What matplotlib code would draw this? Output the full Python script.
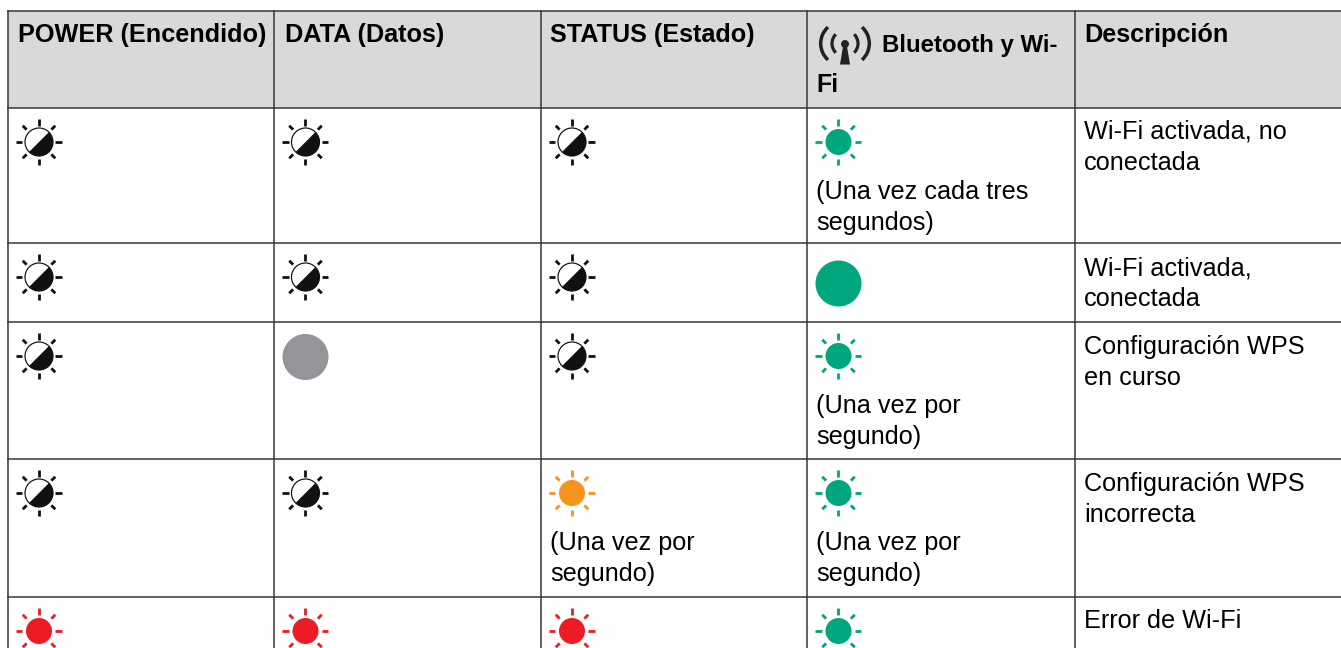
import matplotlib
matplotlib.use("Agg")
import matplotlib.pyplot as plt
from matplotlib.patches import Arc, Circle, Polygon, Rectangle, Wedge
import numpy as np

plt.rcParams["font.family"] = ["Liberation Sans", "DejaVu Sans"]

W, H = 1341, 648
PX = 72 / 100  # px -> pt at dpi 100

# table content
headers = ["POWER (Encendido)", "DATA (Datos)", "STATUS (Estado)", "Bluetooth y Wi-\nFi", "Descripción"]
power = ["blink_black", "blink_black", "blink_black", "blink_black", "blink_red"]
data = ["blink_black", "blink_black", "solid_gray", "blink_black", "blink_red"]
status = ["blink_black", "blink_black", "blink_black", "blink_orange", "blink_red"]
wifi = ["blink_green", "solid_green", "blink_green", "blink_green", "blink_green"]
status_notes = ["", "", "", "(Una vez por\nsegundo)", ""]
wifi_notes = ["(Una vez cada tres\nsegundos)", "", "(Una vez por\nsegundo)", "(Una vez por\nsegundo)", ""]
descriptions = [
    "Wi-Fi activada, no\nconectada",
    "Wi-Fi activada,\nconectada",
    "Configuración WPS\nen curso",
    "Configuración WPS\nincorrecta",
    "Error de Wi-Fi",
]

# layout in pixels
col_x = [8, 274.5, 541, 807.5, 1075, 1400]
row_y = [11, 108, 243, 322, 459, 597, 700]
header_dx = [10, 10.5, 9.5, 9, 9]
desc_dy = [31, 32.5, 32, 31.5, 31]

colors = {
    "black": "#111111",
    "green": "#00a77e",
    "gray": "#939598",
    "orange": "#f7941d",
    "red": "#ed1c24",
}

LINE = "#333333"
FS = 25.2 * PX


def draw_rays(ax, cx, cy, color):
    for deg in range(0, 360, 45):
        ang = np.deg2rad(deg)
        dx, dy = np.cos(ang), np.sin(ang)
        r0 = 16.5 if deg % 90 == 0 else 17.5
        ax.plot([cx + r0 * dx, cx + 23 * dx], [cy + r0 * dy, cy + 23 * dy],
                color=color, lw=2.8 * PX, solid_capstyle="butt", zorder=3)


def draw_icon(ax, kind, col, row):
    style, name = kind.split("_")
    color = colors[name]
    cx = col_x[col] + 31
    if style == "solid":
        cy = row_y[row + 1] + 40.5 if name == "green" else row_y[row + 1] + 35
        ax.add_patch(Circle((cx, cy), 23, fc=color, ec="none", zorder=3))
        return
    cy = row_y[row + 1] + 34
    draw_rays(ax, cx, cy, color)
    if name == "black":
        # half filled lamp, y axis is inverted so angles run clockwise on screen
        ax.add_patch(Circle((cx, cy), 14, fc="white", ec=color, lw=1.2 * PX, zorder=3))
        ax.add_patch(Wedge((cx, cy), 14, -45, 135, fc=color, ec="none", zorder=4))
    else:
        ax.add_patch(Circle((cx, cy), 13, fc=color, ec="none", zorder=3))


def draw_wifi_icon(ax, cx, cy):
    color = "#222222"
    # outer arcs are not concentric in the original icon
    for mid, off in [(0, 2.3), (180, -2.3)]:
        ax.add_patch(Arc((cx + off, cy), 44, 44, angle=mid, theta1=-48, theta2=48,
                         color=color, lw=3.5 * PX, zorder=3))
        ax.add_patch(Arc((cx, cy), 26, 26, angle=mid, theta1=-45, theta2=45,
                         color=color, lw=3.2 * PX, zorder=3))
    ax.add_patch(Circle((cx, cy + 0.5), 4, fc=color, ec="none", zorder=3))
    ax.add_patch(Polygon([[cx - 1.5, cy], [cx + 1.5, cy], [cx + 5, cy + 21], [cx - 5, cy + 21]],
                         fc=color, ec="none", zorder=3))


def draw_lines(ax, x, y, text, **kw):
    for i, line in enumerate(text.split("\n")):
        ax.text(x, y + i * 31, line, fontsize=FS, va="baseline", ha="left", color="black", **kw)


fig = plt.figure(figsize=(W / 100, H / 100), dpi=100)
ax = fig.add_axes([0, 0, 1, 1])
ax.set_xlim(0, W)
ax.set_ylim(H, 0)
ax.axis("off")

# header background and grid
ax.add_patch(Rectangle((col_x[0], row_y[0]), col_x[-1] - col_x[0], row_y[1] - row_y[0],
                       fc="#d9d9d9", ec="none", zorder=1))
for x in col_x[:-1]:
    ax.plot([x, x], [row_y[0], H + 5], color=LINE, lw=1.5 * PX, zorder=2)
for y in row_y[:-1]:
    ax.plot([col_x[0], W + 5], [y, y], color=LINE, lw=1.5 * PX, zorder=2)

# header texts
for i, label in enumerate(headers):
    x = col_x[i] + header_dx[i]
    if i == 3:
        draw_wifi_icon(ax, 845, 43.5)
        first, second = label.split("\n")
        ax.text(882, 52, first, fontsize=24 * PX, fontweight="bold", va="baseline", color="black")
        ax.text(x, 92, second, fontsize=25 * PX, fontweight="bold", va="baseline", color="black")
    else:
        draw_lines(ax, x, row_y[0] + 31, label, fontweight="bold")

# body rows
for r in range(len(power)):
    for c, col in enumerate([power, data, status, wifi]):
        draw_icon(ax, col[r], c, r)
    top = row_y[r + 1]
    if status_notes[r]:
        draw_lines(ax, col_x[2] + 9, top + 91, status_notes[r])
    if wifi_notes[r]:
        draw_lines(ax, col_x[3] + 9, top + 91, wifi_notes[r])
    draw_lines(ax, col_x[4] + 9, top + desc_dy[r], descriptions[r])

fig.savefig("out.png", dpi=100)
